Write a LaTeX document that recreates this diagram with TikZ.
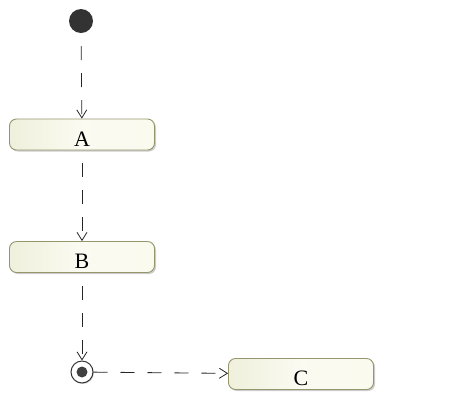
\documentclass[tikz,border=0pt]{standalone}
\usepackage{fontspec}
\setmainfont{Liberation Serif}
\usetikzlibrary{positioning,arrows.meta,shadows}
\definecolor{actfill}{RGB}{244,244,222}
\definecolor{actdraw}{RGB}{150,150,110}
\def\boxw{145}
\def\boxh{31}

\begin{document}
\begin{tikzpicture}[x=1pt,y=-1pt,
    activity/.style={
        draw=actdraw, line width=0.9pt,
        left color=actfill!80!olive!45, right color=actfill!50, middle color=actfill!40,
        rounded corners=7pt,
        minimum width=\boxw pt, minimum height=\boxh pt,
        font=\fontsize{22}{22}\selectfont, text height=23pt, text depth=0pt,
        drop shadow={shadow xshift=1.5pt, shadow yshift=-1.5pt, opacity=0.4}
      },
    flow/.style={
        dash pattern=on 14pt off 13pt, dash phase=14pt, line width=0.8pt, gray!30!black,
        -{Straight Barb[length=8pt,width=10pt]}
      }]
  \useasboundingbox (0,0) rectangle (473,408);

  % start and end
  \node[circle, fill=black!80, minimum size=24pt, inner sep=0pt] (start) at (81,21) {};
  \node[circle, draw=black!80, line width=1pt, fill=white, minimum size=22pt, inner sep=0pt,
        drop shadow={shadow xshift=1pt, shadow yshift=-1pt, opacity=0.3}] (stop) at (82,372) {};
  \fill[black!75] (stop) circle (5.5pt);

  % activities
  \node[activity] (A) at (82,134.5) {A};
  \node[activity] (B) at (82,257) {B};
  \node[activity] (C) at (301,374) {C};

  % flows
  \draw[flow] (start) -- (A);
  \draw[flow] (A) -- (B);
  \draw[flow] (B) -- (stop);
  \draw[flow, dash phase=0pt] (stop) -- (C);

\end{tikzpicture}
\end{document}
